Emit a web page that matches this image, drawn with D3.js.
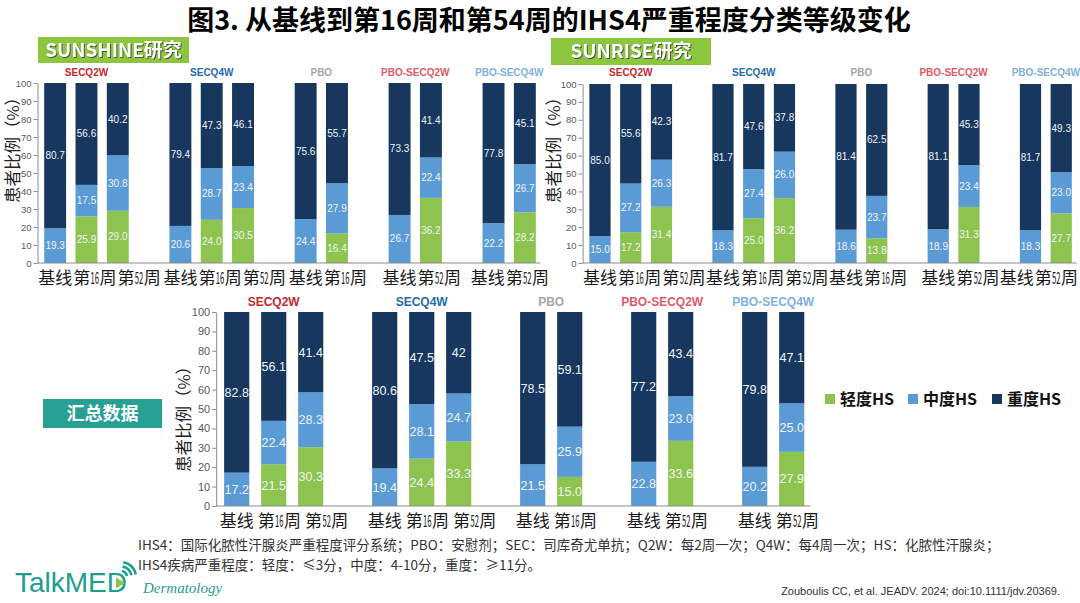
<!DOCTYPE html>
<html><head><meta charset="utf-8">
<script src="https://cdn.jsdelivr.net/npm/d3@7"></script>
<style>
body{margin:0;background:#fff;}
svg{display:block;font-family:"Liberation Sans",Arial,sans-serif;}
</style></head><body>
<svg id="chart" width="1080" height="603"></svg>
<script>
// ---------- DATA ----------
const groupNames = ["SECQ2W", "SECQ4W", "PBO", "PBO-SECQ2W", "PBO-SECQ4W"];
const groupTimepoints = [
  ["基线", "第16周", "第52周"],
  ["基线", "第16周", "第52周"],
  ["基线", "第16周"],
  ["基线", "第52周"],
  ["基线", "第52周"]
];
const severityNames = ["轻度HS", "中度HS", "重度HS"];
const yTickValues = [0, 10, 20, 30, 40, 50, 60, 70, 80, 90, 100];

// SUNSHINE study
const sunshineMild     = [["", "25.9", "29.0"], ["", "24.0", "30.5"], ["", "16.4"], ["", "36.2"], ["", "28.2"]];
const sunshineModerate = [["19.3", "17.5", "30.8"], ["20.6", "28.7", "23.4"], ["24.4", "27.9"], ["26.7", "22.4"], ["22.2", "26.7"]];
const sunshineSevere   = [["80.7", "56.6", "40.2"], ["79.4", "47.3", "46.1"], ["75.6", "55.7"], ["73.3", "41.4"], ["77.8", "45.1"]];

// SUNRISE study
const sunriseMild      = [["", "17.2", "31.4"], ["", "25.0", "36.2"], ["", "13.8"], ["", "31.3"], ["", "27.7"]];
const sunriseModerate  = [["15.0", "27.2", "26.3"], ["18.3", "27.4", "26.0"], ["18.6", "23.7"], ["18.9", "23.4"], ["18.3", "23.0"]];
const sunriseSevere    = [["85.0", "55.6", "42.3"], ["81.7", "47.6", "37.8"], ["81.4", "62.5"], ["81.1", "45.3"], ["81.7", "49.3"]];

// Pooled data
const pooledMild       = [["", "21.5", "30.3"], ["", "24.4", "33.3"], ["", "15.0"], ["", "33.6"], ["", "27.9"]];
const pooledModerate   = [["17.2", "22.4", "28.3"], ["19.4", "28.1", "24.7"], ["21.5", "25.9"], ["22.8", "23.0"], ["20.2", "25.0"]];
const pooledSevere     = [["82.8", "56.1", "41.4"], ["80.6", "47.5", "42"], ["78.5", "59.1"], ["77.2", "43.4"], ["79.8", "47.1"]];

// ---------- STYLE ----------
const sevColors = {mild: "#8dc34f", moderate: "#5b9bd5", severe: "#17375e"};
const groupColors = ["#c0282f", "#1f6bab", "#a6a6a6", "#e05a6a", "#7fb2de"];
const cjk = "'Noto Sans CJK SC', sans-serif";

const svg = d3.select("#chart");

// Title
svg.append("text").attr("x", 549).attr("y", 30).attr("text-anchor", "middle")
  .style("font-family", cjk).style("font-weight", 700).style("font-size", "27px").attr("fill", "#000")
  .text("图3. 从基线到第16周和第54周的IHS4严重程度分类等级变化");

// Study label boxes
function studyBox(x, y, w, h, fill, label, fs, shadow) {
  svg.append("rect").attr("x", x).attr("y", y).attr("width", w).attr("height", h).attr("fill", fill);
  const t = svg.append("text").attr("x", x + w / 2).attr("y", y + h / 2).attr("dy", "0.36em")
    .attr("text-anchor", "middle").style("font-family", cjk).style("font-weight", 700)
    .style("font-size", fs + "px").attr("fill", "#fff").text(label);
  if (shadow) t.style("filter", "drop-shadow(1px 1px 0.6px rgba(60,60,60,0.8))");
}
studyBox(38, 37, 151, 26, "#8cc63f", "SUNSHINE研究", 19, true);
studyBox(551, 38, 160, 27, "#8cc63f", "SUNRISE研究", 19, true);
studyBox(43, 399, 119, 29, "#26a093", "汇总数据", 18, false);

// Category label: CJK parts normal, digit runs horizontally condensed; returns group and width
function catLabel(parent, str, fs) {
  const lg = parent.append("g");
  const parts = str.match(/\d+|[^\d]+/g);
  let cursor = 0;
  parts.forEach(pt => {
    const t = lg.append("text").attr("x", 0).attr("y", 0)
      .style("font-family", cjk).style("font-size", fs + "px").attr("fill", "#1a1a1a").text(pt);
    const nat = t.node().getComputedTextLength();
    let w = nat;
    if (/\d/.test(pt)) {
      w = pt.length * fs * 0.25;
      t.attr("transform", `translate(${cursor},0) scale(${w / nat},1)`);
    } else {
      t.attr("transform", `translate(${cursor},0)`);
    }
    cursor += w + 0.4;
  });
  return {g: lg, w: cursor - 0.4};
}

const panels = [
  {mild: sunshineMild, moderate: sunshineModerate, severe: sunshineSevere,
   xr: [39.5, 540.5], yr: [263, 83], pad: 0.3, tickFont: 9.5, valFont: 10, grpFont: 10, grpY: 75.5,
   catY: 283.5, catFont: 17, catGap: 1, titleX: 13, titleY: 146, titleFont: 16.5, limit: 549},
  {mild: sunriseMild, moderate: sunriseModerate, severe: sunriseSevere,
   xr: [584.6, 1076.6], yr: [263, 84], pad: 0.31, tickFont: 9.5, valFont: 10, grpFont: 10, grpY: 75.5,
   catY: 283.5, catFont: 17, catGap: 1, titleX: 554, titleY: 146, titleFont: 16.5, limit: 1078},
  {mild: pooledMild, moderate: pooledModerate, severe: pooledSevere,
   xr: [218.2, 810.2], yr: [506, 312], pad: 0.32, tickFont: 11, valFont: 12.5, grpFont: 12, grpY: 306,
   catY: 526.5, catFont: 17, catGap: 4, titleX: 184, titleY: 415, titleFont: 16.5, limit: 1078}
];

panels.forEach(p => {
  const g = svg.append("g");
  const slots = [], rows = [];
  groupNames.forEach((gn, gi) => {
    groupTimepoints[gi].forEach((t, ti) => {
      const key = gi + "-" + ti;
      slots.push(key);
      rows.push({key, gi, ti, t,
        mild: +p.mild[gi][ti] || 0, moderate: +p.moderate[gi][ti] || 0, severe: +p.severe[gi][ti] || 0,
        labels: {mild: p.mild[gi][ti], moderate: p.moderate[gi][ti], severe: p.severe[gi][ti]}});
    });
    if (gi < groupNames.length - 1) slots.push("gap" + gi);
  });
  const x = d3.scaleBand().domain(slots).range(p.xr).paddingInner(p.pad).paddingOuter(p.pad / 2);
  const y = d3.scaleLinear().domain([0, 100]).range(p.yr);
  const keys = ["mild", "moderate", "severe"];
  const series = d3.stack().keys(keys)(rows);

  // Bars
  series.forEach(s => {
    g.append("g").selectAll("rect").data(s).join("rect")
      .attr("x", d => x(d.data.key)).attr("width", x.bandwidth())
      .attr("y", d => y(d[1])).attr("height", d => y(d[0]) - y(d[1]))
      .attr("fill", sevColors[s.key]);
  });
  // Value labels
  series.forEach(s => {
    g.append("g").selectAll("text").data(s.filter(d => d.data.labels[s.key] !== "")).join("text")
      .attr("x", d => x(d.data.key) + x.bandwidth() / 2)
      .attr("y", d => y((d[0] + d[1]) / 2)).attr("dy", "0.35em")
      .attr("text-anchor", "middle").attr("fill", "#f2f4f7")
      .style("font-size", p.valFont + "px")
      .text(d => d.data.labels[s.key]);
  });

  // Y axis
  const axisX = p.xr[0] - 2;
  const ya = g.append("g").attr("transform", `translate(${axisX},0)`)
    .call(d3.axisLeft(y).tickValues(yTickValues).tickSize(4).tickSizeOuter(0).tickPadding(2));
  ya.select(".domain").attr("stroke", "#8c8c8c");
  ya.selectAll(".tick line").attr("stroke", "#8c8c8c");
  ya.selectAll(".tick text").attr("fill", "#595959").style("font-size", p.tickFont + "px")
    .style("font-family", "'Liberation Sans Narrow','Arial Narrow','Liberation Sans',Arial,sans-serif");

  // X axis baseline
  g.append("line").attr("x1", axisX).attr("x2", p.xr[1]).attr("y1", y(0)).attr("y2", y(0))
    .attr("stroke", "#8c8c8c").attr("stroke-width", 1.2);

  // Y title
  g.append("text").attr("transform", `translate(${p.titleX},${p.titleY}) rotate(-90)`)
    .attr("text-anchor", "middle").attr("dy", "0.35em")
    .style("font-family", cjk).style("font-size", p.titleFont + "px").attr("fill", "#222")
    .text("患者比例（%）");

  // Group titles
  groupNames.forEach((gn, gi) => {
    const ks = rows.filter(r => r.gi === gi).map(r => r.key);
    const cx = (x(ks[0]) + x(ks[ks.length - 1]) + x.bandwidth()) / 2;
    g.append("text").attr("x", cx).attr("y", p.grpY).attr("text-anchor", "middle")
      .style("font-weight", 700).style("font-size", p.grpFont + "px").attr("fill", groupColors[gi])
      .text(gn);
  });

  // Category labels (sequential, no overlap)
  groupNames.forEach((gn, gi) => {
    const gr = rows.filter(r => r.gi === gi);
    let prevRight = -Infinity;
    const placed = [];
    gr.forEach(r => {
      const lab = catLabel(g, r.t, p.catFont);
      const c = Math.max(x(r.key) + x.bandwidth() / 2, prevRight + p.catGap + lab.w / 2);
      placed.push({lab, left: c - lab.w / 2});
      prevRight = c + lab.w / 2;
    });
    const shift = Math.min(0, p.limit - prevRight);
    placed.forEach(pl => pl.lab.g.attr("transform", `translate(${pl.left + shift},${p.catY})`));
  });
});

// Legend
const legendKeys = ["mild", "moderate", "severe"];
const legendX = [825, 908, 992];
legendKeys.forEach((k, i) => {
  svg.append("rect").attr("x", legendX[i]).attr("y", 394).attr("width", 10).attr("height", 10).attr("fill", sevColors[k]);
  svg.append("text").attr("x", legendX[i] + 15).attr("y", 405)
    .style("font-family", cjk).style("font-weight", 700).style("font-size", "16px").attr("fill", "#111")
    .text(severityNames[i]);
});

// Footnotes
const foot = svg.append("g").style("font-family", cjk).style("font-size", "13.5px").attr("fill", "#333");
foot.append("text").attr("x", 138).attr("y", 549.5)
  .text("IHS4：国际化脓性汗腺炎严重程度评分系统；PBO：安慰剂；SEC：司库奇尤单抗；Q2W：每2周一次；Q4W：每4周一次；HS：化脓性汗腺炎；");
foot.append("text").attr("x", 138).attr("y", 569.5)
  .text("IHS4疾病严重程度：轻度：≤3分，中度：4-10分，重度：≥11分。");
svg.append("text").attr("x", 1060).attr("y", 595).attr("text-anchor", "end")
  .style("font-size", "11px").attr("fill", "#333")
  .text("Zouboulis CC, et al. JEADV. 2024; doi:10.1111/jdv.20369.");

// Logo
const logo = svg.append("g");
logo.append("text").attr("x", 15).attr("y", 592).style("font-size", "28px").attr("fill", "#1b9e8e").text("TalkMED");
logo.append("path").attr("d", "M116,577.5 L116,588.5 L125,583 Z").attr("fill", "#8dc34f");
const arc = d3.arc();
[6, 10.5, 15].forEach(r => {
  logo.append("path").attr("transform", "translate(121,577)")
    .attr("d", arc({innerRadius: r - 1.3, outerRadius: r + 1.3, startAngle: 0.15, endAngle: 1.4}))
    .attr("fill", "#1b9e8e");
});
logo.append("text").attr("x", 143).attr("y", 593).style("font-family", "'Liberation Serif',serif")
  .style("font-style", "italic").style("font-size", "15px").attr("fill", "#2a9d8f").text("Dermatology");
</script>
</body></html>
